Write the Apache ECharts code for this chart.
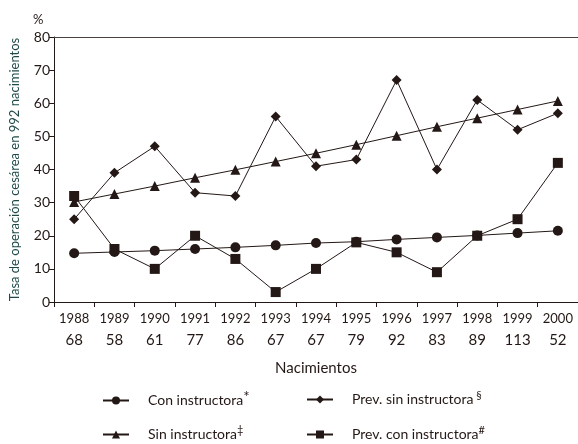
<!DOCTYPE html>
<html>
<head>
<meta charset="UTF-8">
<title>Tasa de operación cesárea</title>
<script src="https://cdn.jsdelivr.net/npm/echarts@6/dist/echarts.min.js"></script>
<style>
  body { margin: 0; background: #fff; }
  #chart { width: 578px; height: 444px; }
</style>
</head>
<body>
<div id="chart"></div>
<script>
  // datos
  var years = ['1988','1989','1990','1991','1992','1993','1994','1995','1996','1997','1998','1999','2000'];
  var births = [68, 58, 61, 77, 86, 67, 67, 79, 92, 83, 89, 113, 52];
  var conInstructora = [14.7, 15.1, 15.5, 16.0, 16.5, 17.1, 17.8, 18.2, 18.9, 19.5, 20.1, 20.8, 21.5];
  var sinInstructora = [30.2, 32.6, 35.0, 37.5, 39.9, 42.4, 44.9, 47.5, 50.2, 52.9, 55.5, 58.1, 60.7];
  var prevSinInstructora = [25, 39, 47, 33, 32, 56, 41, 43, 67, 40, 61, 52, 57];
  var prevConInstructora = [32, 16, 10, 20, 13, 3, 10, 18, 15, 9, 20, 25, 42];

  var ink = '#231815';
  var font = 'Lato, "Open Sans", sans-serif';

  function serie(name, data, symbol, size) {
    return {
      name: name,
      type: 'line',
      data: data,
      symbol: symbol,
      symbolSize: size,
      lineStyle: { color: ink, width: 1 },
      itemStyle: { color: ink },
      emphasis: { disabled: true },
      animation: false
    };
  }

  var legendRich = {
    t: { fontFamily: font, fontSize: 14, color: ink },
    s: { fontFamily: font, fontSize: 11, color: ink, verticalAlign: 'top', padding: [0, 0, 8, 0] },
    a: { fontFamily: font, fontSize: 15, color: ink, verticalAlign: 'top', padding: [0, 0, 6, 0] }
  };
  var marks = {
    'Con instructora': '{a|*}',
    'Sin instructora': '{s|‡}',
    'Prev. sin instructora': '{s| §}',
    'Prev. con instructora': '{s|#}'
  };
  function legendFmt(name) {
    return '{t|' + name + '}' + marks[name];
  }
  // una leyenda por entrada, 2 columnas x 2 filas
  function legendItem(name, left, top) {
    return {
      left: left,
      top: top,
      itemWidth: 26,
      itemHeight: 10,
      data: [name],
      formatter: legendFmt,
      textStyle: { rich: legendRich, padding: [0, 0, 0, 14] }
    };
  }

  var chart = echarts.init(document.getElementById('chart'));
  chart.setOption({
    backgroundColor: '#fff',
    animation: false,
    title: {
      text: '%',
      left: 28,
      top: 8,
      textStyle: { fontFamily: font, fontSize: 13, fontWeight: 'normal', color: ink }
    },
    grid: { left: 50, right: -3, top: 37, bottom: 142, containLabel: false },
    legend: [
      legendItem('Con instructora', 97, 385),
      legendItem('Sin instructora', 97, 420),
      legendItem('Prev. sin instructora', 301, 385),
      legendItem('Prev. con instructora', 301, 420)
    ],
    xAxis: [{
      type: 'category',
      data: years,
      boundaryGap: true,
      name: 'Nacimientos',
      nameLocation: 'middle',
      nameGap: 59,
      nameTextStyle: { fontFamily: font, fontSize: 15, color: ink },
      axisLine: { lineStyle: { color: ink, width: 1 } },
      axisTick: { show: true, length: 5, lineStyle: { color: ink } },
      axisLabel: {
        margin: 7,
        interval: 0,
        formatter: function (value, idx) {
          return '{y|' + value + '}\n{n|' + births[idx] + '}';
        },
        rich: {
          y: { fontFamily: font, fontSize: 13, color: ink, lineHeight: 20 },
          n: { fontFamily: font, fontSize: 15, color: ink, lineHeight: 22 }
        }
      },
      splitLine: { show: false }
    }, {
      type: 'category',
      data: years,
      position: 'top',
      axisLine: { lineStyle: { color: '#4a4340', width: 1 } },
      axisTick: { show: false },
      axisLabel: { show: false }
    }],
    yAxis: {
      type: 'value',
      min: 0,
      max: 80,
      interval: 10,
      name: 'Tasa de operación cesárea en 992 nacimientos',
      nameLocation: 'middle',
      nameGap: 33,
      nameTextStyle: { fontFamily: font, fontSize: 13, color: '#1d4a48' },
      axisLine: { show: true, lineStyle: { color: ink, width: 1 } },
      axisTick: { show: true, length: 5, lineStyle: { color: ink } },
      axisLabel: { fontFamily: font, fontSize: 14, color: ink, margin: 4 },
      splitLine: { show: false }
    },
    series: [
      serie('Con instructora', conInstructora, 'circle', 10),
      serie('Sin instructora', sinInstructora, 'triangle', 10),
      serie('Prev. sin instructora', prevSinInstructora, 'diamond', 10),
      serie('Prev. con instructora', prevConInstructora, 'rect', 10)
    ]
  });
</script>
</body>
</html>
